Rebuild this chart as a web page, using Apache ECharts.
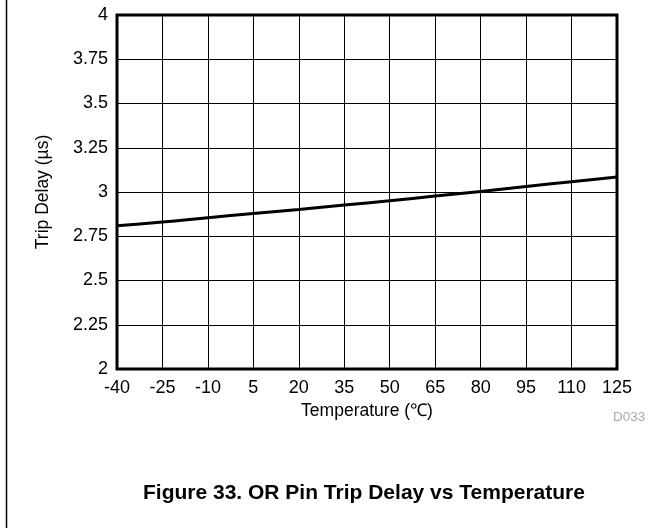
<!DOCTYPE html>
<html>
<head>
<meta charset="utf-8">
<script src="https://cdn.jsdelivr.net/npm/echarts@6/dist/echarts.min.js"></script>
<style>
html,body{margin:0;padding:0;background:#fff;}
#chart{width:669px;height:529px;}
</style>
</head>
<body>
<div id="chart"></div>
<script>
// temperature (C) and trip delay (us)
var temps = [-40, -25, -10, 5, 20, 35, 50, 65, 80, 95, 110, 125]
var delays = [2.81, 2.83, 2.855, 2.878, 2.901, 2.926, 2.951, 2.977, 3.003, 3.031, 3.058, 3.085]
var xTicks = { min: -40, max: 125, step: 15 }
var yTicks = { min: 2, max: 4, step: 0.25 }

var points = temps.map(function (t, i) { return [t, delays[i]] })
var font = 'Arial, "Liberation Sans", sans-serif'

var myChart = echarts.init(document.getElementById('chart'))
var option = {
  animation: false,
  grid: {
    left: 117, right: 52, top: 15, bottom: 160,
    show: true, borderColor: '#000', borderWidth: 3, backgroundColor: 'transparent'
  },
  xAxis: {
    type: 'value',
    min: xTicks.min, max: xTicks.max, interval: xTicks.step,
    name: 'Temperature (℃)',
    nameLocation: 'middle', nameGap: 30,
    nameTextStyle: { color: '#000', fontSize: 17.5, fontFamily: font },
    axisLine: { show: false },
    axisTick: { show: false },
    axisLabel: { color: '#000', fontSize: 18, fontFamily: font, margin: 10 },
    splitLine: { lineStyle: { color: '#000', width: 1 } }
  },
  yAxis: {
    type: 'value',
    min: yTicks.min, max: yTicks.max, interval: yTicks.step,
    name: 'Trip Delay (µs)',
    nameLocation: 'middle', nameGap: 65,
    nameTextStyle: { color: '#000', fontSize: 17.5, fontFamily: font },
    axisLine: { show: false },
    axisTick: { show: false },
    axisLabel: {
      color: '#000', fontSize: 18, fontFamily: font, margin: 9,
      formatter: function (v) { return String(v) }
    },
    splitLine: { lineStyle: { color: '#000', width: 1 } }
  },
  series: [{
    type: 'line',
    data: points,
    showSymbol: false,
    smooth: true,
    lineStyle: { color: '#000', width: 3 }
  }],
  graphic: [
    { type: 'line', shape: { x1: 6.5, y1: 0, x2: 6.5, y2: 528 }, style: { stroke: '#000', lineWidth: 1.5 } },
    { type: 'text', left: 613, top: 410, style: { text: 'D033', fill: '#aaa', fontSize: 13.5, fontFamily: font } },
    { type: 'text', left: 143, top: 483, style: { text: 'Figure 33. OR Pin Trip Delay vs Temperature', fill: '#000', fontSize: 21, fontWeight: 'bold', fontFamily: font } }
  ]
}
myChart.setOption(option)
</script>
</body>
</html>
